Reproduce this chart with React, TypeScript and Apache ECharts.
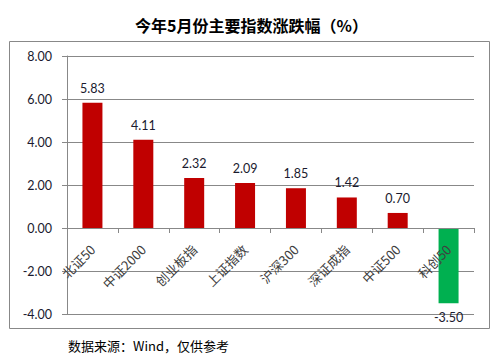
import React, { useEffect, useRef } from "react";
import * as echarts from "echarts";

const categories = ["北证50", "中证2000", "创业板指", "上证指数", "沪深300", "深证成指", "中证500", "科创50"];
const values = [5.83, 4.11, 2.32, 2.09, 1.85, 1.42, 0.7, -3.5];
const yTicks = { min: -4, max: 8, interval: 2 };
const titleText = "今年5月份主要指数涨跌幅（%）";
const sourceText = "数据来源：Wind，仅供参考";

const W = 503;
const H = 362;
const gridBox = { left: 67, right: 29, top: 56, bottom: 48 };
const plotH = H - gridBox.top - gridBox.bottom;
const zeroOffset = -plotH * (0 - yTicks.min) / (yTicks.max - yTicks.min);

export default function App() {
  const ref = useRef<HTMLDivElement>(null);
  useEffect(() => {
    const chart = echarts.init(ref.current!, null, { renderer: "svg" });
    const grey = "#888888";
    chart.setOption({
      animation: false,
      backgroundColor: "#ffffff",
      title: {
        text: titleText,
        left: "center",
        top: 12,
        textStyle: { fontFamily: "Noto Sans CJK SC", fontSize: 16, fontWeight: "bold", color: "#000" },
      },
      graphic: [
        {
          type: "rect",
          shape: { x: 9.5, y: 41.5, width: 480, height: 287 },
          style: { fill: "none", stroke: grey, lineWidth: 1 },
          z: 0,
          silent: true,
        },
        {
          type: "text",
          left: 68,
          top: 339,
          style: { text: sourceText, fontFamily: "Noto Sans CJK SC", fontSize: 13, fill: "#000" },
        },
      ],
      grid: { ...gridBox, containLabel: false, outerBoundsMode: "none" },
      xAxis: {
        type: "category",
        data: categories,
        offset: zeroOffset,
        z: 5,
        axisLine: { show: true, onZero: false, lineStyle: { color: grey, width: 1 } },
        axisTick: { show: true, length: 5, lineStyle: { color: grey } },
        axisLabel: {
          rotate: 45,
          margin: 19,
          fontFamily: "Noto Sans CJK SC",
          fontSize: 13,
          color: "#404040",
          interval: 0,
        },
      },
      yAxis: {
        type: "value",
        min: yTicks.min,
        max: yTicks.max,
        interval: yTicks.interval,
        axisLine: { show: true, lineStyle: { color: grey } },
        axisTick: { show: true, length: 5, lineStyle: { color: grey } },
        splitLine: { lineStyle: { color: grey } },
        axisLabel: {
          margin: 15,
          formatter: (v: number) => v.toFixed(2),
          fontFamily: "Lato",
          fontSize: 12.5,
          color: "#1a1a2e",
        },
      },
      series: [
        {
          type: "bar",
          barWidth: 20,
          z: 2,
          data: values.map((v) => ({
            value: v,
            itemStyle: { color: v >= 0 ? "#C00000" : "#00B050" },
            label: {
              show: true,
              position: v >= 0 ? "top" : "bottom",
              distance: 8,
              formatter: v.toFixed(2),
              fontFamily: "Lato",
              fontSize: 12.5,
              color: "#1a1a2e",
            },
          })),
        },
      ],
    });
    return () => chart.dispose();
  }, []);
  return <div ref={ref} style={{ position: "fixed", left: 0, top: 0, width: W, height: H }} />;
}
